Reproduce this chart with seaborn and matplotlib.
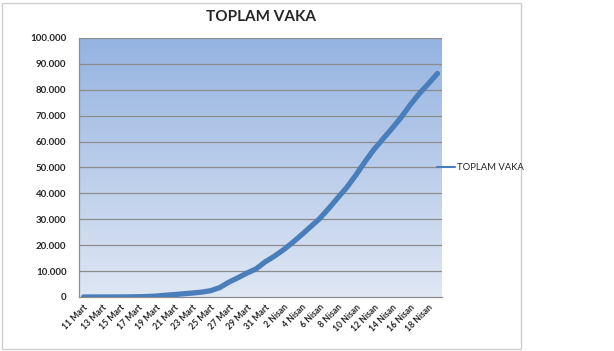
import numpy as np
import pandas as pd
import matplotlib
matplotlib.use("Agg")
import matplotlib.pyplot as plt
import seaborn as sns
from matplotlib.colors import LinearSegmentedColormap
from matplotlib.patches import Rectangle
from matplotlib.lines import Line2D
from matplotlib.ticker import FuncFormatter

# data: Turkey cumulative cases, 11 Mart - 19 Nisan
dates = ([f"{d} Mart" for d in range(11, 32)] +
         [f"{d} Nisan" for d in range(1, 20)])
toplam_vaka = [1, 1, 5, 6, 18, 47, 98, 191, 359, 670,
               947, 1236, 1529, 1872, 2433, 3629, 5698, 7402, 9217, 10827,
               13531, 15679, 18135, 20921, 23934, 27069, 30217, 34109, 38226, 42282,
               47029, 52167, 56956, 61049, 65111, 69392, 74193, 78546, 82329, 86306]
series_name = "TOPLAM VAKA"

df = pd.DataFrame({"idx": np.arange(len(dates)), "tarih": dates, "vaka": toplam_vaka})

sns.set_style("white")
plt.rcParams['font.family'] = ['Lato', 'DejaVu Sans']

fig = plt.figure(figsize=(6.14, 3.51), dpi=100)
ax = fig.add_axes([79 / 614, 54 / 351, 363 / 614, 259 / 351])

# chart frame
fig.patches.append(Rectangle((2 / 614, 2 / 351), 519 / 614, 346 / 351,
                             transform=fig.transFigure, fill=False,
                             edgecolor="#cfcfcf", linewidth=1.0, zorder=0))

n = len(dates)
# gradient background of the plot area
cmap = LinearSegmentedColormap.from_list("bg", ["#dfe7f4", "#95b3e1"])
grad = np.linspace(0, 1, 256).reshape(-1, 1)
ax.imshow(grad, extent=[-0.5, n - 0.5, 0, 100000], origin="lower",
          aspect="auto", cmap=cmap, zorder=0)

for yv in range(10000, 100001, 10000):
    ax.axhline(yv, color="#8c8c8c", linewidth=0.9, zorder=1)

sns.lineplot(data=df, x="idx", y="vaka", ax=ax, color="#4a7ebb",
             linewidth=3.8, solid_capstyle="round", zorder=3)

ax.set_xlim(-0.5, n - 0.5)
ax.set_ylim(0, 100000)
ax.set_xlabel("")
ax.set_ylabel("")

ax.set_xticks(np.arange(0, n, 2))
ax.set_xticklabels(dates[::2], rotation=45, ha="right", rotation_mode="anchor",
                   fontsize=6.2, fontweight="bold")
ax.set_xticks(np.arange(-0.5, n, 2), minor=True)
ax.tick_params(axis="x", which="major", length=0, pad=4)
ax.tick_params(axis="x", which="minor", length=3, color="#8c8c8c", width=0.8)

ax.set_yticks(np.arange(0, 100001, 10000))
ax.yaxis.set_major_formatter(FuncFormatter(lambda v, p: f"{int(v):,}".replace(",", ".")))
ax.tick_params(axis="y", length=3, color="#8c8c8c", width=0.8, pad=6, labelsize=7)
for lbl in ax.get_yticklabels():
    lbl.set_fontweight("bold")

for s in ["top", "right"]:
    ax.spines[s].set_visible(False)
for s in ["left", "bottom"]:
    ax.spines[s].set_color("#8c8c8c")
    ax.spines[s].set_linewidth(0.9)

fig.text(261 / 614, 1 - 17 / 351, "TOPLAM VAKA", ha="center", va="center",
         fontsize=11, fontweight="bold")

# legend entry on the right
fig.lines.append(Line2D([437 / 614, 455 / 614], [1 - 167 / 351, 1 - 167 / 351],
                        transform=fig.transFigure, color="#4a7ebb", linewidth=1.5))
fig.text(457 / 614, 1 - 167 / 351, series_name, ha="left", va="center", fontsize=6.8)

fig.savefig("out.png", dpi=100)
